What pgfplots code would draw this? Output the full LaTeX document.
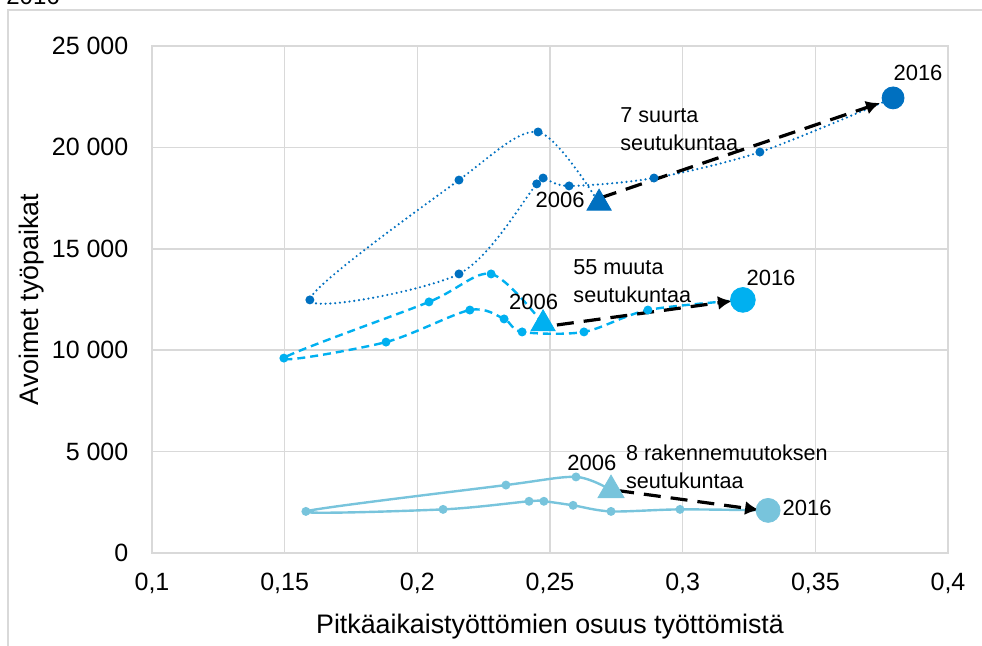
\documentclass[border=0pt]{standalone}
\usepackage{fontspec}
\setmainfont{Liberation Sans}
\usepackage{pgfplots}
\usepackage{pgfplotstable}
\pgfplotsset{compat=1.18}
\usetikzlibrary{arrows.meta}

\definecolor{suuri}{RGB}{0,112,192}
\definecolor{muut}{RGB}{0,176,240}
\definecolor{rakenne}{RGB}{120,196,220}
\definecolor{gridgrey}{RGB}{217,217,217}

% vuodet 2006-2016, ensimmainen rivi = 2006
\pgfplotstableread{
x y
0.2685 17250
0.2455 20760
0.2157 18390
0.1595 12480
0.2157 13760
0.2450 18200
0.2474 18490
0.2572 18100
0.2892 18490
0.3291 19770
0.3793 22440
}\suuret

\pgfplotstableread{
x y
0.2474 11300
0.2278 13760
0.2044 12380
0.1497 9610
0.1882 10400
0.2198 11980
0.2327 11540
0.2395 10900
0.2628 10900
0.2869 11980
0.3227 12480
}\muut

\pgfplotstableread{
x y
0.2730 3100
0.2598 3750
0.2334 3350
0.1580 2050
0.2097 2150
0.2421 2550
0.2477 2550
0.2587 2350
0.2730 2050
0.2990 2150
0.3322 2100
}\rakenne

\begin{document}
\begin{tikzpicture}[x=1pt,y=1pt]
\useasboundingbox (0,0) rectangle (491,323);
\draw[gridgrey, line width=0.8pt] (4,-5) -- (4,318) -- (500,318);
\node[anchor=base west, inner sep=0, font=\fontsize{12}{14}\selectfont] at (3,320.5) {2016};

\begin{axis}[
  at={(76pt,46.5pt)}, anchor=south west,
  scale only axis, width=398pt, height=253.5pt,
  xmin=0.1, xmax=0.4, ymin=0, ymax=25000,
  xtick={0.1,0.15,0.2,0.25,0.3,0.35,0.4},
  xticklabels={{0,1},{0,15},{0,2},{0,25},{0,3},{0,35},{0,4}},
  ytick={0,5000,10000,15000,20000,25000},
  yticklabels={0,5 000,10 000,15 000,20 000,25 000},
  scaled y ticks=false, scaled x ticks=false,
  grid=major,
  major grid style={gridgrey, line width=0.8pt},
  axis line style={gridgrey, line width=0.8pt},
  major tick length=0pt,
  tick label style={font=\fontsize{12.5}{15}\selectfont},
  xticklabel style={yshift=-6.3pt},
  yticklabel style={xshift=-8.3pt},
  xlabel={Pitkäaikaistyöttömien osuus työttömistä},
  ylabel={Avoimet työpaikat},
  label style={font=\fontsize{13.4}{16}\selectfont},
  xlabel style={at={(axis description cs:0.5,-0.146)}, anchor=center},
  ylabel style={at={(axis description cs:-0.1508,0.5)}, anchor=center},
  clip=false,
]
% 7 suurta seutukuntaa
\addplot[suuri, line width=1.2pt, line cap=round, dash pattern=on 0pt off 2.4pt,
  smooth, tension=0.5, mark=*, mark size=1.6pt, mark options={solid}] table {\suuret};
\addplot[suuri, only marks, mark=triangle*, mark size=7pt,
  skip coords between index={1}{11}] table {\suuret};
\addplot[suuri, only marks, mark=*, mark size=5.5pt,
  skip coords between index={0}{10}] table {\suuret};

% 55 muuta seutukuntaa
\addplot[muut, line width=1.2pt, dash pattern=on 4pt off 2.5pt,
  smooth, tension=0.5, mark=*, mark size=1.6pt, mark options={solid}] table {\muut};
\addplot[muut, only marks, mark=triangle*, mark size=7pt,
  skip coords between index={1}{11}] table {\muut};
\addplot[muut, only marks, mark=*, mark size=6.2pt,
  skip coords between index={0}{10}] table {\muut};

% 8 rakennemuutoksen seutukuntaa
\addplot[rakenne, line width=1.2pt, smooth, tension=0.5,
  mark=*, mark size=1.6pt] table {\rakenne};
\addplot[rakenne, only marks, mark=triangle*, mark size=7.5pt,
  skip coords between index={1}{11}] table {\rakenne};
\addplot[rakenne, only marks, mark=*, mark size=6pt,
  skip coords between index={0}{10}] table {\rakenne};

% nuolet 2006 -> 2016
\addplot[black, line width=1.6pt, dash pattern=on 8.5pt off 5pt, -{Latex[length=7pt,width=7pt]}]
  coordinates {(0.2689,17505) (0.3744,22190)};
\addplot[black, line width=1.6pt, dash pattern=on 8.5pt off 5pt, -{Latex[length=7pt,width=7pt]}]
  coordinates {(0.2526,11243) (0.3186,12426)};
\addplot[black, line width=1.6pt, dash pattern=on 8.5pt off 5pt, -{Latex[length=7pt,width=7pt]}]
  coordinates {(0.2753,3082) (0.3288,2120)};

\begin{scope}[every node/.style={inner sep=0pt, font=\fontsize{11}{14}\selectfont}]
\node[anchor=east] at (axis cs:0.2632,17406) {2006};
\node at (axis cs:0.3887,23669) {2016};
\node at (axis cs:0.2438,12377) {2006};
\node at (axis cs:0.3333,13560) {2016};
\node at (axis cs:0.2658,4438) {2006};
\node at (axis cs:0.3469,2219) {2016};
\end{scope}
\begin{scope}[every node/.style={inner sep=0pt, align=left, anchor=west,
    font=\fontsize{10.8}{14}\selectfont}]
\node at (axis cs:0.2764,20907) {7 suurta\\seutukuntaa};
\node at (axis cs:0.2587,13388) {55 muuta\\seutukuntaa};
\node at (axis cs:0.2785,4250) {8 rakennemuutoksen\\seutukuntaa};
\end{scope}
\end{axis}
\end{tikzpicture}
\end{document}
